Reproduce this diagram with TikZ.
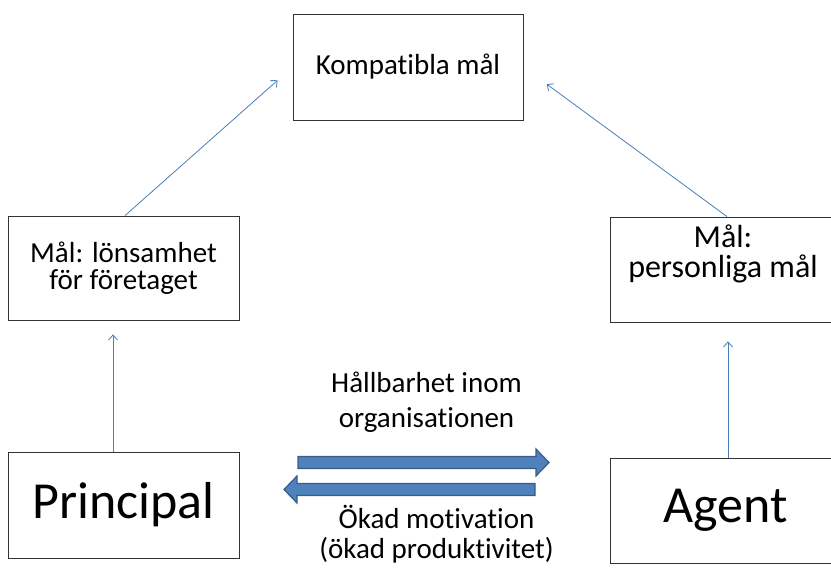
\documentclass[tikz,border=0pt]{standalone}
\usepackage{fontspec}
\setmainfont{Carlito}[Ligatures=NoCommon]
\usetikzlibrary{arrows.meta}
\definecolor{officeblue}{HTML}{4F81BD}
\definecolor{officeline}{HTML}{385D8A}
\definecolor{linkblue}{HTML}{4A7EBB}
\begin{document}
\begin{tikzpicture}[x=1bp,y=-1bp,
    box/.style={draw=black!80,line width=0.8bp,rectangle,inner sep=0pt,align=center},
    small/.style={font=\fontsize{29bp}{27bp}\selectfont},
    big/.style={font=\fontsize{52bp}{56bp}\selectfont},
    link/.style={draw=linkblue,line width=0.8bp,-{Straight Barb[length=5bp,width=9bp]}},
    blockarrow/.style={fill=officeblue,draw=officeline,line width=1.2bp}]
        \useasboundingbox (0,0) rectangle (831,569);
        %% Boxes
        \node[box,small,minimum width=230bp,minimum height=106bp] (komp) at (408,67) {Kompatibla mål};
        \node[box,small,minimum width=231bp,minimum height=104bp] (lon) at (123.5,268) {Mål: lönsamhet\\för företaget};
        \node[box,minimum width=226bp,minimum height=105bp] (pers) at (723,269.5) {};
            \node[align=center,inner sep=0pt,font=\fontsize{32bp}{30bp}\selectfont] (perstext) at (723,254) {Mål:\\personliga mål};
        \node[box,big,minimum width=231bp,minimum height=106bp] (princ) at (123.5,505) {Principal};
        \node[box,big,minimum width=231bp,minimum height=105bp] (agent) at (725.5,510.5) {Agent};

        %% Links
        \draw[link,shorten >=14bp] ([xshift=-10.5bp]princ.north) -- ([xshift=-10.5bp]lon.south);
        \draw[link,shorten >=19bp] ([xshift=2.5bp]agent.north) -- ([xshift=2.5bp]agent.north |- pers.south);
        \draw[link,shorten >=20bp] ([xshift=1.5bp]lon.north) -- (komp.west);
        \draw[link,shorten >=29bp] ([xshift=4bp]pers.north) -- (komp.east);

        %% Exchange
        \draw[blockarrow] (298,456.5) -- (536,456.5) -- (536,449) -- (549,462.5) -- (536,476) -- (536,468.5) -- (298,468.5) -- cycle;
        \draw[blockarrow] (535,483.5) -- (297,483.5) -- (297,476) -- (284,489.5) -- (297,503) -- (297,495.5) -- (535,495.5) -- cycle;
        \node[align=center,inner sep=0pt,font=\fontsize{29bp}{35bp}\selectfont] (hall) at (426.5,402.5) {Hållbarhet inom\\organisationen};
        \node[align=center,inner sep=0pt,font=\fontsize{29bp}{30bp}\selectfont] (okad) at (436.5,534) {Ökad motivation\\(ökad produktivitet)};
    \end{tikzpicture}
\end{document}
